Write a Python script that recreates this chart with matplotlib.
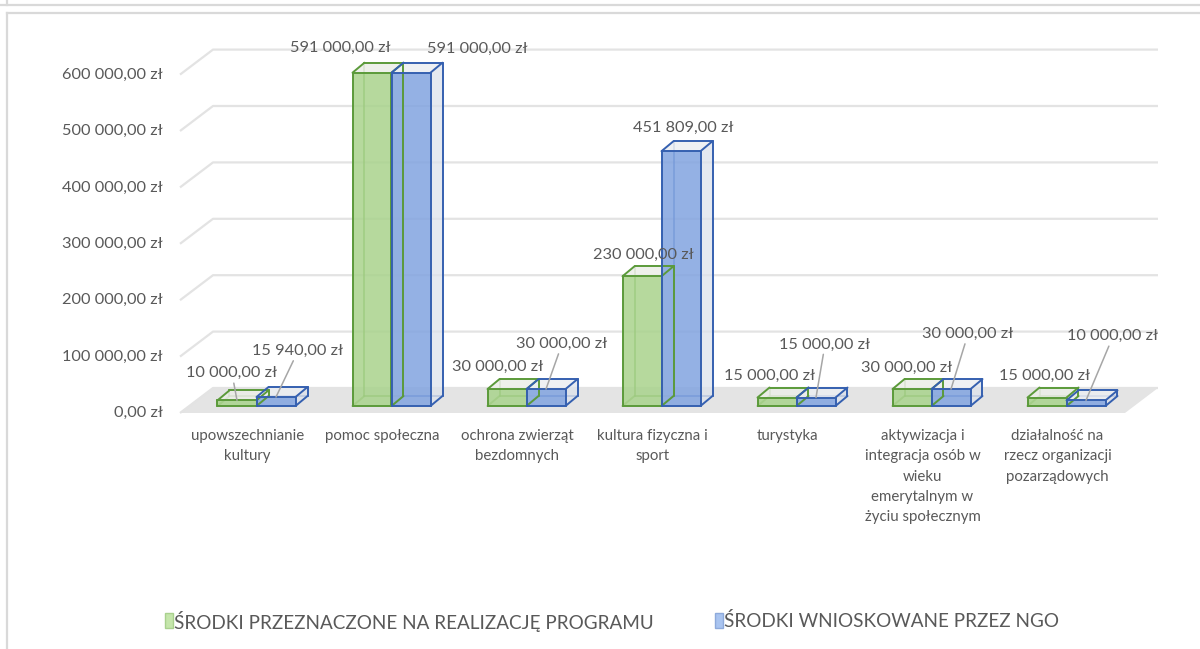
import matplotlib
matplotlib.use('Agg')
import matplotlib.pyplot as plt
from matplotlib.patches import Polygon, Rectangle
from matplotlib.lines import Line2D

plt.rcParams['font.family'] = ['Lato', 'DejaVu Sans']

########################################################## Data #############################################################

categories = ['upowszechnianie\nkultury', 'pomoc społeczna', 'ochrona zwierząt\nbezdomnych',
              'kultura fizyczna i\nsport', 'turystyka',
              'aktywizacja i\nintegracja osób w\nwieku\nemerytalnym w\nżyciu społecznym',
              'działalność na\nrzecz organizacji\npozarządowych']
przeznaczone = [10000, 591000, 30000, 230000, 15000, 30000, 15000]
wnioskowane = [15940, 591000, 30000, 451809, 15000, 30000, 10000]
y_ticks = [0, 100000, 200000, 300000, 400000, 500000, 600000]
series_names = ['ŚRODKI PRZEZNACZONE NA REALIZACJĘ PROGRAMU', 'ŚRODKI WNIOSKOWANE PRZEZ NGO']

# label offsets (pixels, from front top centre of the bar) and leader line flags
green_lbl = [(-5, 27), (-32, 25), (-9, 22), (1, 21), (-7, 22), (-5, 21), (-2, 22)]
blue_lbl = [(22, 46), (66, 24), (16, 45), (2, 23), (9, 53), (17, 55), (27, 64)]
green_lead = [True, False, False, False, False, False, False]
blue_lead = [True, False, True, False, True, True, True]

########################################################## Geometry / style #############################################################

PX_X = 135.0              # pixels per category
PX_Y = 56.4 / 100000      # pixels per zl
X0, Y0 = 180, 413         # pixel of front-left floor corner
W, H = 1200, 649

TXT = '#595959'
GRID = '#e3e3e3'


def off(px, py):
    return px / PX_X, py / PX_Y


def fmt(v):
    return f'{v:,.2f}'.replace(',', ' ').replace('.', ',') + ' zł'


fig = plt.figure(figsize=(W / 100, H / 100), dpi=100)
ax = fig.add_axes([0, 0, 1, 1])
ax.set_xlim(-X0 / PX_X, (W - X0) / PX_X)
ax.set_ylim(-(H - Y0) / PX_Y, Y0 / PX_Y)
ax.axis('off')

n = len(categories)
fdx, fdy = off(33, 25)

# floor
ax.add_patch(Polygon([(0, 0), (n, 0), (n + fdx, fdy), (fdx, fdy)], closed=True,
                     facecolor='#e4e4e4', edgecolor='none', zorder=0))

# gridlines (side wall + back wall)
for t in y_ticks:
    ax.plot([0, fdx, n + fdx], [t, t + fdy, t + fdy], color=GRID, lw=1.6, zorder=0.5,
            solid_capstyle='butt')
    ax.annotate(fmt(t), xy=(0, t), xytext=(-17, 0), textcoords='offset pixels',
                ha='right', va='center', fontsize=11.8, color=TXT)

sx, sy = off(9, 7)
bdx, bdy = off(12, 10)
bw = 39 / PX_X


def box(x0, h, face, side, top, edge):
    b = sy
    fl, fr = (x0, b), (x0 + bw, b)
    tl, tr = (x0, b + h), (x0 + bw, b + h)
    sh = lambda p: (p[0] + bdx, p[1] + bdy)
    kw = dict(color=edge, lw=1.4, solid_capstyle='round', zorder=1.2)
    # hidden edges
    for a, c in [(sh(fl), sh(tl)), (sh(fl), sh(fr)), (fl, sh(fl))]:
        ax.plot([a[0], c[0]], [a[1], c[1]], alpha=0.7, **kw)
    ax.add_patch(Polygon([fr, sh(fr), sh(tr), tr], closed=True, facecolor=side,
                         edgecolor='none', alpha=0.75, zorder=1.3))
    ax.add_patch(Polygon([tl, tr, sh(tr), sh(tl)], closed=True, facecolor=top,
                         edgecolor='none', alpha=0.85, zorder=1.3))
    ax.add_patch(Polygon([fl, fr, tr, tl], closed=True, facecolor=face,
                         edgecolor='none', alpha=0.85, zorder=1.4))
    kw['zorder'] = 1.5
    for a, c in [(fl, fr), (fr, tr), (tr, tl), (tl, fl), (tl, sh(tl)), (sh(tl), sh(tr)),
                 (tr, sh(tr)), (sh(tr), sh(fr)), (fr, sh(fr))]:
        ax.plot([a[0], c[0]], [a[1], c[1]], **kw)


for i in range(n):
    xc = i + 0.5 + sx
    box(xc - bw, przeznaczone[i], '#a9d38c', '#e4e9df', '#eceee8', '#5b9a3a')
    box(xc, wnioskowane[i], '#82a4e0', '#dde2ec', '#eceef2', '#3560b0')

    for val, cx, lbl, lead in [(przeznaczone[i], xc - bw / 2, green_lbl[i], green_lead[i]),
                               (wnioskowane[i], xc + bw / 2, blue_lbl[i], blue_lead[i])]:
        ap = dict(arrowstyle='-', color='#a6a6a6', lw=1.1, shrinkA=0, shrinkB=0) if lead else None
        ax.annotate(fmt(val), xy=(cx, sy + val), xytext=lbl, textcoords='offset pixels',
                    ha='center', va='center', fontsize=11.8, color=TXT, arrowprops=ap, zorder=3)

    ax.annotate(categories[i], xy=(i + 0.5, 0), xytext=(0, -16), textcoords='offset pixels',
                ha='center', va='top', fontsize=10.8, color=TXT, linespacing=1.57)

# legend
for x_sq, face, edge, name in [(165, '#c5e6ab', '#a9d18e', series_names[0]),
                               (715, '#a9c4f0', '#8eaadb', series_names[1])]:
    fig.patches.append(Rectangle((x_sq / W, 1 - 628 / H), 8 / W, 15 / H, transform=fig.transFigure,
                                 facecolor=face, edgecolor=edge, lw=1))
    fig.text((x_sq + 9) / W, 1 - 621 / H, name, ha='left', va='center', fontsize=13.6, color=TXT)

# frame
for xs, ys in [([0, W], [5, 5]), ([7, 7], [0, 5]), ([7, W], [12.5, 12.5]), ([7, 7], [12.5, H])]:
    fig.add_artist(Line2D([x / W for x in xs], [1 - y / H for y in ys], transform=fig.transFigure,
                          color='#d9d9d9', lw=1.6))

fig.savefig('out.png', dpi=100)
